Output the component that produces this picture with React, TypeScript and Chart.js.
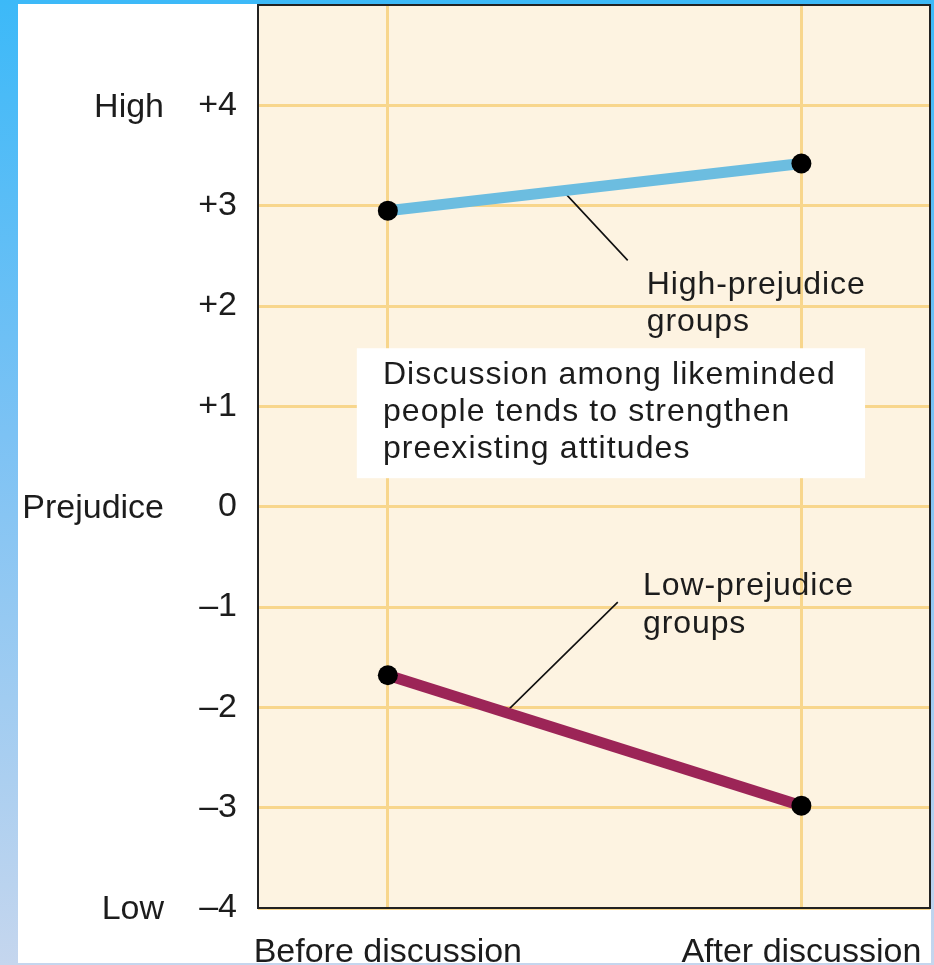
import React, { useEffect, useRef } from 'react';
import { Chart, registerables } from 'chart.js';

Chart.register(...registerables);

// ---- data ----
const categories = ['Before discussion', 'After discussion'];
const categoryPositions = [0, 1];
const highPrejudice = [2.95, 3.42];
const lowPrejudice = [-1.68, -2.98];
const yTicks = [-4, -3, -2, -1, 0, 1, 2, 3, 4];
const yTickLabels = ['–4', '–3', '–2', '–1', '0', '+1', '+2', '+3', '+4'];
const sideLabelValues = [4, 0, -4];
const sideLabelTexts = ['High', 'Prejudice', 'Low'];
const highLabelLines = ['High-prejudice', 'groups'];
const lowLabelLines = ['Low-prejudice', 'groups'];
const noteLines = ['Discussion among likeminded', 'people tends to strengthen', 'preexisting attitudes'];

const FONT = '"Liberation Sans", Arial, Helvetica, sans-serif';
const TEXT = '#1c1c1c';

const decorPlugin = {
  id: 'decor',
  beforeDraw(chart: any) {
    const { ctx, chartArea: a } = chart;
    ctx.save();
    ctx.fillStyle = '#fdf3e1';
    ctx.fillRect(a.left, a.top, a.right - a.left, a.bottom - a.top);
    ctx.restore();
  },
  beforeDatasetsDraw(chart: any) {
    const { ctx } = chart;
    const xs = chart.scales.x;
    const ys = chart.scales.y;
    const px = (v: number) => xs.getPixelForValue(v);
    const py = (v: number) => ys.getPixelForValue(v);
    ctx.save();
    // leader lines
    ctx.strokeStyle = '#111';
    ctx.lineWidth = 1.6;
    ctx.beginPath();
    ctx.moveTo(px(0.423), py(3.15));
    ctx.lineTo(px(0.58), py(2.455));
    ctx.moveTo(px(0.556), py(-0.951));
    ctx.lineTo(px(0.285), py(-2.05));
    ctx.stroke();

    // note box
    const bx0 = px(-0.075), bx1 = px(1.154), by0 = py(1.579), by1 = py(0.284);
    ctx.fillStyle = '#ffffff';
    ctx.fillRect(bx0, by0, bx1 - bx0, by1 - by0);

    ctx.fillStyle = TEXT;
    ctx.font = `32px ${FONT}`;
    ctx.textAlign = 'left';
    ctx.textBaseline = 'alphabetic';
    try { (ctx as any).letterSpacing = '1.1px'; } catch (e) {}
    noteLines.forEach((t, i) => ctx.fillText(t, px(-0.012), by0 + 36 + i * 37));
    try { (ctx as any).letterSpacing = '0.9px'; } catch (e) {}
    const hx = px(0.626), hy = py(2.117);
    highLabelLines.forEach((t, i) => ctx.fillText(t, hx, hy + i * 37));
    const lx = px(0.617), ly = py(-0.881);
    lowLabelLines.forEach((t, i) => ctx.fillText(t, lx, ly + i * 38));
    try { (ctx as any).letterSpacing = '0px'; } catch (e) {}
    ctx.restore();
  },
  afterDraw(chart: any) {
    const { ctx, chartArea: a } = chart;
    const ys = chart.scales.y;
    ctx.save();
    ctx.strokeStyle = '#222';
    ctx.lineWidth = 2;
    ctx.strokeRect(a.left, a.top, a.right - a.left, a.bottom - a.top);
    ctx.fillStyle = TEXT;
    ctx.font = `34px ${FONT}`;
    ctx.textAlign = 'right';
    ctx.textBaseline = 'middle';
    sideLabelValues.forEach((v, i) => ctx.fillText(sideLabelTexts[i], 164, ys.getPixelForValue(v) + 2));
    ctx.restore();
  },
};

export default function App() {
  const ref = useRef<HTMLCanvasElement | null>(null);
  useEffect(() => {
    document.body.style.margin = '0';
    const canvas = ref.current;
    if (!canvas) return;
    const chart = new Chart(canvas, {
      type: 'line',
      data: {
        datasets: [
          {
            label: 'High-prejudice groups',
            data: highPrejudice.map((v, i) => ({ x: categoryPositions[i], y: v })),
            borderColor: '#6cbde0',
            borderWidth: 11,
            pointRadius: 10,
            pointBackgroundColor: '#000',
            pointBorderWidth: 0,
          },
          {
            label: 'Low-prejudice groups',
            data: lowPrejudice.map((v, i) => ({ x: categoryPositions[i], y: v })),
            borderColor: '#9c2557',
            borderWidth: 11,
            pointRadius: 10,
            pointBackgroundColor: '#000',
            pointBorderWidth: 0,
          },
        ],
      },
      options: {
        responsive: false,
        animation: false,
        devicePixelRatio: 1,
        layout: { autoPadding: false, padding: { left: 0, right: 4, top: 5, bottom: 0 } },
        plugins: { legend: { display: false }, tooltip: { enabled: false } },
        scales: {
          x: {
            type: 'linear',
            min: -0.314,
            max: 1.311,
            afterBuildTicks: (axis: any) => {
              axis.ticks = categoryPositions.map((v) => ({ value: v }));
            },
            afterFit: (scale: any) => {
              scale.height = 57;
              scale.paddingLeft = 0;
              scale.paddingRight = 0;
            },
            grid: { color: '#f8d68c', lineWidth: 3, drawTicks: false },
            border: { display: false },
            ticks: {
              padding: 24,
              color: TEXT,
              font: { family: FONT, size: 34 },
              maxRotation: 0,
              autoSkip: false,
              callback: (v: any) => categories[categoryPositions.indexOf(Number(v))] ?? '',
            },
          },
          y: {
            type: 'linear',
            min: -4,
            max: 5,
            afterBuildTicks: (axis: any) => {
              axis.ticks = yTicks.map((v) => ({ value: v }));
            },
            afterFit: (scale: any) => {
              scale.width = 258;
              scale.paddingTop = 0;
              scale.paddingBottom = 0;
            },
            grid: { color: '#f8d68c', lineWidth: 3, drawTicks: false },
            border: { display: false },
            ticks: {
              padding: 21,
              color: TEXT,
              font: { family: FONT, size: 34 },
              autoSkip: false,
              callback: (v: any) => yTickLabels[yTicks.indexOf(Number(v))] ?? '',
            },
          },
        },
      },
      plugins: [decorPlugin],
    } as any);
    return () => chart.destroy();
  }, []);

  return (
    <div
      style={{
        position: 'relative',
        width: 934,
        height: 965,
        background: 'linear-gradient(180deg, #3cb9f8 0%, #7cc2f4 45%, #c5d6ee 100%)',
        overflow: 'hidden',
      }}
    >
      <div style={{ position: 'absolute', left: 18, top: 4, width: 913, height: 959, background: '#ffffff' }} />
      <canvas ref={ref} width={934} height={965} style={{ position: 'absolute', left: 0, top: 0, display: 'block' }} />
    </div>
  );
}
